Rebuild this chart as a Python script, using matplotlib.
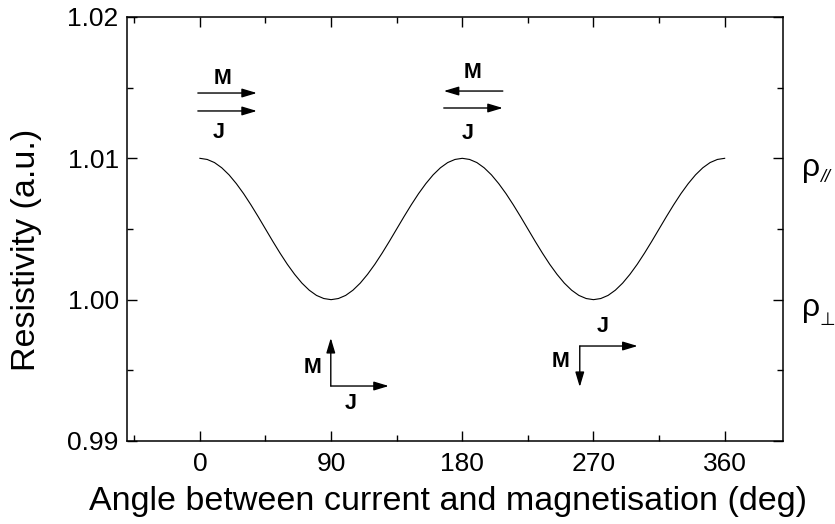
import matplotlib
matplotlib.use('Agg')
import matplotlib.pyplot as plt
from matplotlib.ticker import MultipleLocator

plt.rcParams['font.family'] = ['Liberation Sans', 'DejaVu Sans']

# angle (deg) and resistivity, 5 deg steps
angle = list(range(0, 361, 5))
quarter = [1.01000, 1.00992, 1.00970, 1.00933, 1.00883, 1.00821, 1.00750,
           1.00671, 1.00587, 1.00500, 1.00413, 1.00329, 1.00250, 1.00179,
           1.00117, 1.00067, 1.00030, 1.00008, 1.00000]
half = quarter + quarter[-2::-1]
resistivity = half + half[1:] + half[1:]
resistivity = resistivity[:len(angle)]

xticks = [0, 90, 180, 270, 360]
yticks = [0.99, 1.00, 1.01, 1.02]

fig = plt.figure(figsize=(8.35, 5.24), dpi=100)
ax = fig.add_axes([0.1521, 0.1584, 0.7856, 0.8092])
ax.plot(angle, resistivity, color='k', lw=0.8)

ax.set_xlim(-50, 400)
ax.set_ylim(0.99, 1.02)
ax.set_xticks(xticks)
ax.set_yticks(yticks)
ax.set_yticklabels([f'{v:.2f}' for v in yticks])
ax.xaxis.set_minor_locator(MultipleLocator(45))
ax.yaxis.set_minor_locator(MultipleLocator(0.005))
ax.tick_params(which='both', direction='in', top=True, right=True, width=1.0)
ax.tick_params(which='major', length=7, labelsize=19)
ax.tick_params(axis='x', which='major', pad=8)
ax.tick_params(axis='y', which='major', pad=6)
ax.tick_params(which='minor', length=4)
for s in ax.spines.values():
    s.set_linewidth(1.1)

ax.set_xlabel('Angle between current and magnetisation (deg)', fontsize=24.5)
ax.xaxis.set_label_coords(0.489, -0.105)
fig.text(27 / 835, 1 - 250 / 524, 'Resistivity (a.u.)', rotation=90,
         fontsize=24.5, ha='center', va='center')

# rho labels on the right
tr = ax.get_yaxis_transform()
ax.text(1.029, 1.00875, 'ρ', transform=tr, fontsize=23, ha='left', va='baseline')
ax.text(1.056, 1.00833, '//', transform=tr, fontsize=13, ha='left',
        va='baseline', style='italic')
ax.text(1.029, 0.99884, 'ρ', transform=tr, fontsize=23, ha='left', va='baseline')
ax.text(1.056, 0.99821, '⊥', transform=tr, fontsize=13, ha='left', va='baseline')

aprops = dict(arrowstyle='-|>,head_length=0.6,head_width=0.18', lw=1.0,
              color='k', mutation_scale=15, shrinkA=0, shrinkB=0)


def arrow(tail, head):
    ax.annotate('', xy=head, xytext=tail, arrowprops=aprops)


def lab(x, y, s):
    ax.text(x, y, s, fontsize=15.5, fontweight='bold', ha='center', va='center')


# 0 deg: M // J
arrow((-1.4, 1.01462), (39.1, 1.01462))
arrow((-1.4, 1.01335), (39.1, 1.01335))
lab(15.8, 1.01568, 'M')
lab(13.0, 1.01186, 'J')

# 180 deg: M antiparallel J
arrow((207.8, 1.01476), (167.3, 1.01476))
arrow((167.3, 1.01356), (207.8, 1.01356))
lab(187.2, 1.01604, 'M')
lab(183.8, 1.01179, 'J')

# 90 deg: M up, J right
arrow((89.8, 0.99389), (89.8, 0.99729))
arrow((89.8, 0.99389), (129.6, 0.99389))
lab(77.5, 0.99517, 'M')
lab(103.5, 0.99262, 'J')

# 270 deg: M down, J right
arrow((260.6, 0.99672), (300.3, 0.99672))
arrow((260.6, 0.99672), (260.6, 0.99382))
lab(276.3, 0.99807, 'J')
lab(247.5, 0.99559, 'M')

fig.savefig('out.png', dpi=100)
